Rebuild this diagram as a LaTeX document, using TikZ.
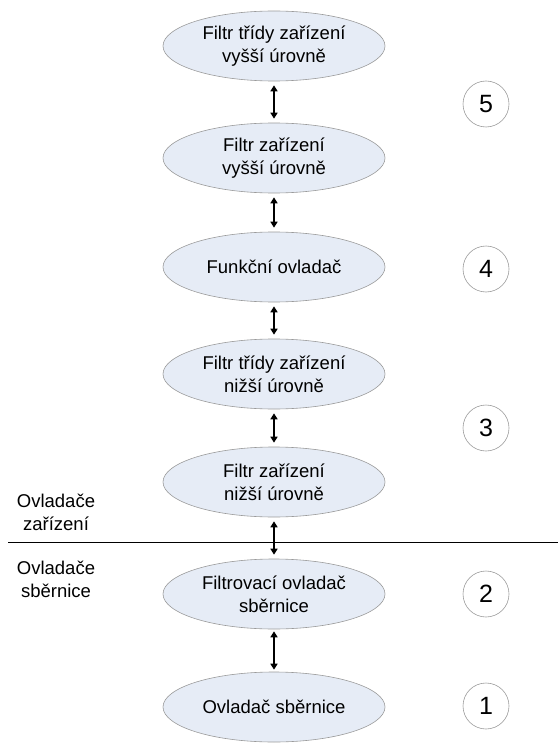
\documentclass[tikz,border=0pt]{standalone}
\usepackage{fontspec}
\setmainfont{Liberation Sans}
\usetikzlibrary{arrows.meta,shapes.geometric}
\definecolor{ellfill}{HTML}{E6ECF6}
\definecolor{ellline}{HTML}{9A9A9A}
\tikzset{
  layer/.style={ellipse, draw=ellline, line width=0.6pt, fill=ellfill,
    minimum width=222pt, minimum height=70pt, inner sep=0pt, align=center,
    font=\fontsize{18.5}{23}\selectfont},
  num/.style={circle, draw=ellline, line width=0.6pt, minimum size=46pt, inner sep=0pt,
    font=\fontsize{25}{28}\selectfont},
  side/.style={align=center, font=\fontsize{18.5}{23}\selectfont, inner sep=0pt},
  link/.style={{Triangle[width=7pt,length=6pt]}-{Triangle[width=7pt,length=6pt]}, line width=1.6pt, black, shorten >=4pt, shorten <=4pt}
}
\begin{document}
\begin{tikzpicture}[x=1pt,y=1pt]
\useasboundingbox (0,0) rectangle (558,-743);
\node[layer] (e1) at (274,-46) {Filtr třídy zařízení\\vyšší úrovně};
\node[layer] (e2) at (274,-158) {Filtr zařízení\\vyšší úrovně};
\node[layer] (e3) at (274,-267) {Funkční ovladač};
\node[layer] (e4) at (274,-374) {Filtr třídy zařízení\\nižší úrovně};
\node[layer] (e5) at (274,-482) {Filtr zařízení\\nižší úrovně};
\node[layer] (e6) at (274,-594) {Filtrovací ovladač\\sběrnice};
\node[layer] (e7) at (274,-707) {Ovladač sběrnice};
\draw[link] (e1) -- (e2);
\draw[link] (e2) -- (e3);
\draw[link] (e3) -- (e4);
\draw[link] (e4) -- (e5);
\draw[link] (e5) -- (e6);
\draw[link, shorten >=2pt, shorten <=2pt] (e6) -- (e7);
\coordinate (l1) at (8,-542);
\coordinate (l2) at (558,-542);
\draw[line width=0.8pt] (l1) -- (l2);
\node[side] (up) at (56,-512) {Ovladače\\zařízení};
\node[side] (down) at (56,-579) {Ovladače\\sběrnice};
\node[num] (n5) at (486,-104) {5};
\node[num] (n4) at (486,-269) {4};
\node[num] (n3) at (486,-428) {3};
\node[num] (n2) at (486,-594) {2};
\node[num] (n1) at (486,-706) {1};
\end{tikzpicture}
\end{document}
